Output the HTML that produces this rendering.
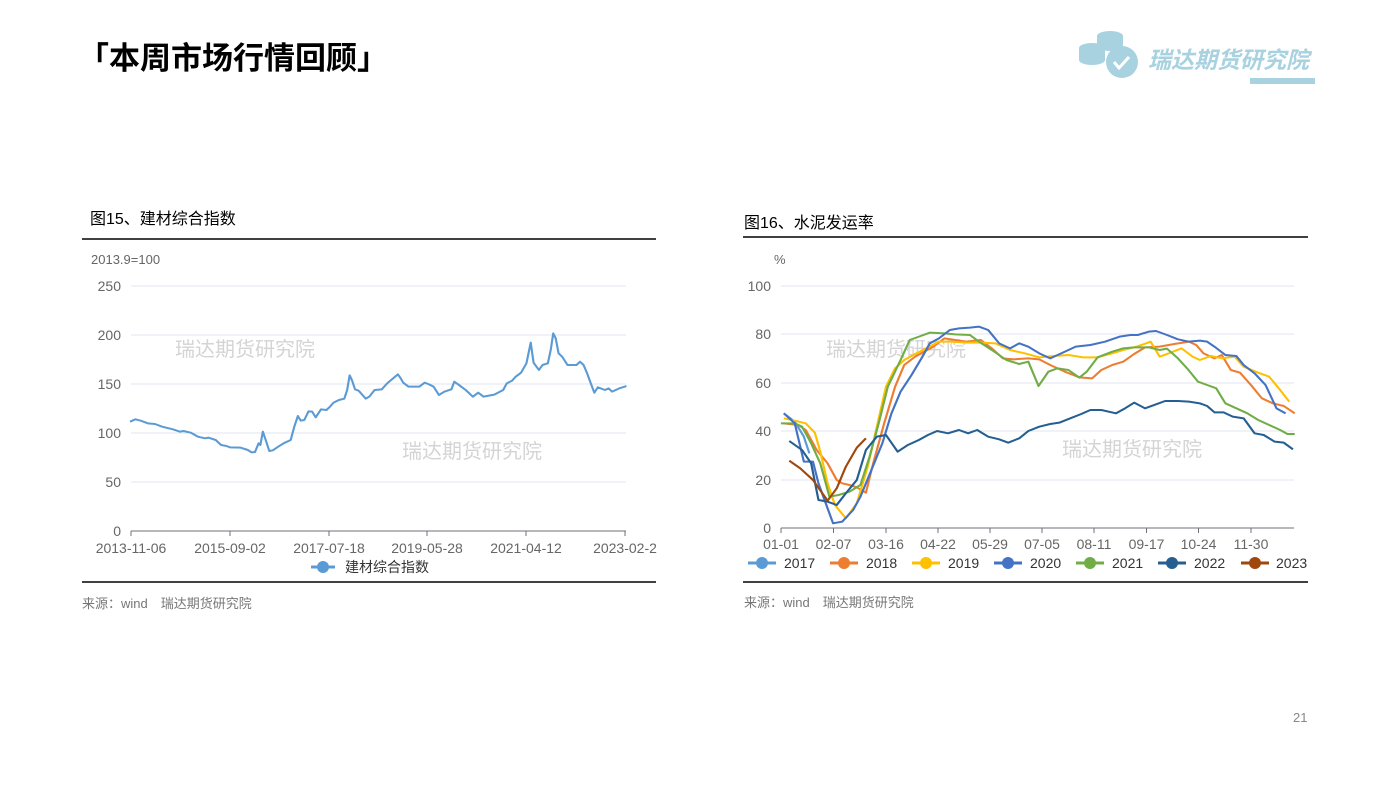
<!DOCTYPE html>
<html><head><meta charset="utf-8"><style>
body{margin:0;width:1387px;height:780px;background:#fff;overflow:hidden;font-family:"Liberation Sans","Noto Sans CJK SC",sans-serif;}
svg text{font-family:"Liberation Sans","Noto Sans CJK SC",sans-serif;}
</style></head><body>
<svg width="1387" height="780" viewBox="0 0 1387 780" xmlns="http://www.w3.org/2000/svg">
<text x="78" y="69" font-size="31" font-weight="bold" fill="#000">「本周市场行情回顾」</text>
<g fill="#a8d2e0">
<ellipse cx="1110" cy="36" rx="13" ry="5"/><rect x="1097" y="36" width="26" height="10"/><ellipse cx="1110" cy="46" rx="13" ry="5"/>
<ellipse cx="1092" cy="48" rx="13" ry="5"/><rect x="1079" y="48" width="26" height="12"/><ellipse cx="1092" cy="60" rx="13" ry="5"/>
<circle cx="1122" cy="62" r="16"/>
</g>
<path d="M1114 62 l5 6 l10 -11" stroke="#fff" stroke-width="3" fill="none"/>
<text x="1148" y="68" font-size="23" font-weight="bold" font-style="italic" fill="#a8d2e0">瑞达期货研究院</text>
<rect x="1250" y="78" width="65" height="6" fill="#a8d2e0"/>

<!-- left chart -->
<text x="90" y="224" font-size="16" fill="#000">图15、建材综合指数</text>
<line x1="82" y1="239" x2="656" y2="239" stroke="#000" stroke-width="1.5"/>
<line x1="82" y1="582" x2="656" y2="582" stroke="#000" stroke-width="1.5"/>
<text x="91" y="264" font-size="13" fill="#666">2013.9=100</text>
<g stroke="#e0e6f1" stroke-width="1">
<line x1="131" y1="286" x2="626" y2="286"/><line x1="131" y1="335" x2="626" y2="335"/><line x1="131" y1="384" x2="626" y2="384"/><line x1="131" y1="433" x2="626" y2="433"/><line x1="131" y1="482" x2="626" y2="482"/>
</g>
<line x1="131" y1="531" x2="626" y2="531" stroke="#6e7079"/>
<g stroke="#6e7079"><line x1="131" y1="531" x2="131" y2="536"/><line x1="230" y1="531" x2="230" y2="536"/><line x1="329" y1="531" x2="329" y2="536"/><line x1="427" y1="531" x2="427" y2="536"/><line x1="526" y1="531" x2="526" y2="536"/><line x1="625" y1="531" x2="625" y2="536"/></g>
<g font-size="14" fill="#666" text-anchor="end">
<text x="121" y="291">250</text><text x="121" y="340">200</text><text x="121" y="389">150</text><text x="121" y="438">100</text><text x="121" y="487">50</text><text x="121" y="536">0</text></g>
<g font-size="14" fill="#666" text-anchor="middle">
<text x="131" y="553">2013-11-06</text><text x="230" y="553">2015-09-02</text><text x="329" y="553">2017-07-18</text><text x="427" y="553">2019-05-28</text><text x="526" y="553">2021-04-12</text><text x="625" y="553">2023-02-2</text></g>
<text x="175" y="356" font-size="20" fill="#d4d4d4">瑞达期货研究院</text>
<text x="402" y="458" font-size="20" fill="#d4d4d4">瑞达期货研究院</text>
<g transform="translate(80,250) scale(0.35714,0.33333)">
<polyline fill="none" stroke="#5b9bd5" stroke-width="6" stroke-linejoin="round" points="140,515 155,508 170,512 190,520 210,522 230,530 260,538 280,545 290,543 310,548 330,560 350,565 360,563 380,570 395,585 410,588 420,592 450,593 470,600 480,607 490,606 500,580 505,585 512,545 520,570 530,603 540,601 555,590 570,580 590,570 600,530 610,498 618,512 628,510 640,484 650,485 660,502 675,478 690,480 700,470 710,458 725,450 740,446 748,420 755,376 762,392 770,418 780,422 800,446 810,440 825,420 845,418 860,400 880,382 890,373 898,385 905,398 920,410 950,410 965,398 975,402 990,410 1005,435 1020,425 1040,418 1048,395 1060,404 1080,420 1100,440 1115,428 1130,440 1160,434 1185,420 1195,400 1210,392 1220,380 1235,368 1250,340 1262,278 1270,338 1285,360 1295,345 1310,340 1318,300 1325,250 1332,265 1340,310 1350,320 1365,345 1390,345 1400,335 1410,345 1420,370 1425,385 1440,428 1450,412 1470,420 1480,415 1490,425 1510,415 1525,410 1530,408"/>
</g>
<line x1="311" y1="567" x2="335" y2="567" stroke="#5b9bd5" stroke-width="3"/><circle cx="323" cy="567" r="6" fill="#5b9bd5"/>
<text x="345" y="572" font-size="14" fill="#333">建材综合指数</text>
<text x="82" y="608" font-size="13" fill="#777">来源：wind　瑞达期货研究院</text>

<!-- right chart -->
<text x="744" y="228" font-size="16" fill="#000">图16、水泥发运率</text>
<line x1="743" y1="237" x2="1308" y2="237" stroke="#000" stroke-width="1.5"/>
<line x1="743" y1="582" x2="1308" y2="582" stroke="#000" stroke-width="1.5"/>
<text x="774" y="264" font-size="13" fill="#666">%</text>
<g stroke="#e0e6f1"><line x1="781" y1="286" x2="1294" y2="286"/><line x1="781" y1="334" x2="1294" y2="334"/><line x1="781" y1="383" x2="1294" y2="383"/><line x1="781" y1="431" x2="1294" y2="431"/><line x1="781" y1="480" x2="1294" y2="480"/></g>
<line x1="781" y1="528" x2="1294" y2="528" stroke="#6e7079"/>
<g stroke="#6e7079"><line x1="781" y1="528" x2="781" y2="533"/><line x1="833.5" y1="528" x2="833.5" y2="533"/><line x1="886" y1="528" x2="886" y2="533"/><line x1="938" y1="528" x2="938" y2="533"/><line x1="990" y1="528" x2="990" y2="533"/><line x1="1042" y1="528" x2="1042" y2="533"/><line x1="1094" y1="528" x2="1094" y2="533"/><line x1="1146.5" y1="528" x2="1146.5" y2="533"/><line x1="1198.5" y1="528" x2="1198.5" y2="533"/><line x1="1251" y1="528" x2="1251" y2="533"/></g>
<g font-size="14" fill="#666" text-anchor="end">
<text x="771" y="291">100</text><text x="771" y="339">80</text><text x="771" y="388">60</text><text x="771" y="436">40</text><text x="771" y="485">20</text><text x="771" y="533">0</text></g>
<g font-size="14" fill="#666" text-anchor="middle">
<text x="781" y="549">01-01</text><text x="833.5" y="549">02-07</text><text x="886" y="549">03-16</text><text x="938" y="549">04-22</text><text x="990" y="549">05-29</text><text x="1042" y="549">07-05</text><text x="1094" y="549">08-11</text><text x="1146.5" y="549">09-17</text><text x="1198.5" y="549">10-24</text><text x="1251" y="549">11-30</text></g>
<text x="826" y="356" font-size="20" fill="#d4d4d4">瑞达期货研究院</text>
<text x="1062" y="456" font-size="20" fill="#d4d4d4">瑞达期货研究院</text>
<g transform="translate(740,250) scale(0.36496,0.33333)" fill="none" stroke-width="6" stroke-linejoin="round">
<polyline stroke="#5b9bd5" points="120,490 150,515 175,560 190,610"/>
<polyline stroke="#ed7d31" points="120,520 160,525 180,540 210,600 240,640 265,690 280,700 300,705 320,712 345,728 365,640 395,520 425,410 450,345 480,320 500,308 530,290 560,265 590,270 620,275 660,270 690,295 720,325 750,328 790,325 820,328 850,345 890,365 930,382 965,385 990,360 1020,345 1050,335 1080,312 1110,292 1150,290 1190,282 1230,275 1250,285 1270,310 1300,325 1320,315 1345,360 1370,368 1400,405 1430,445 1460,460 1490,468 1520,490"/>
<polyline stroke="#ffc000" points="120,505 150,512 180,520 205,548 220,605 240,700 260,765 290,805 320,760 350,650 375,530 400,410 425,355 450,330 480,312 510,295 545,275 580,275 620,278 660,278 700,280 740,300 780,310 820,322 860,318 900,315 940,322 980,322 1020,310 1050,300 1080,292 1100,285 1125,275 1150,320 1175,310 1210,295 1240,320 1260,330 1290,318 1320,325 1355,320 1380,350 1420,368 1450,380 1480,420 1505,455"/>
<polyline stroke="#70ad47" points="112,520 150,520 170,530 195,580 220,640 245,740 270,735 300,725 330,705 355,620 380,520 405,410 440,330 465,270 495,258 520,248 560,250 590,253 630,255 655,275 690,300 730,330 765,342 790,335 818,408 845,365 870,355 900,360 930,383 950,365 980,322 1020,305 1050,295 1080,292 1120,292 1150,300 1170,296 1200,325 1225,355 1255,395 1280,405 1305,415 1330,460 1360,475 1390,490 1420,510 1450,525 1480,540 1500,552 1520,552"/>
<polyline stroke="#4472c4" points="120,490 150,520 175,635 200,635 215,700 255,820 280,815 310,780 330,740 360,660 390,580 415,490 440,425 470,375 500,320 520,280 545,265 575,240 600,235 630,233 655,230 680,240 710,280 740,295 765,280 790,290 820,310 850,325 880,310 920,290 960,285 1000,275 1040,260 1070,255 1090,255 1120,245 1140,243 1170,255 1200,268 1230,275 1260,272 1280,275 1300,290 1330,315 1360,318 1380,345 1410,370 1440,405 1470,475 1495,490"/>
<polyline stroke="#255e91" points="135,573 170,600 195,640 215,750 240,755 265,765 290,730 320,690 345,600 375,560 400,555 432,605 460,585 490,570 515,555 540,543 570,550 600,540 625,550 650,540 680,560 710,568 735,578 765,565 790,543 820,530 850,522 875,518 905,505 935,492 960,480 990,480 1030,490 1055,475 1080,458 1110,475 1140,463 1165,453 1200,453 1230,455 1260,460 1280,468 1300,487 1325,487 1350,500 1380,505 1410,550 1435,555 1465,575 1490,578 1515,598"/>
<polyline stroke="#9e480e" points="135,632 165,655 200,690 240,752 265,715 290,650 320,593 345,565"/>
</g>
<g font-size="14" fill="#333">
<line x1="748" y1="563" x2="776" y2="563" stroke="#5b9bd5" stroke-width="3"/><circle cx="762" cy="563" r="6" fill="#5b9bd5"/><text x="784" y="568">2017</text>
<line x1="830" y1="563" x2="858" y2="563" stroke="#ed7d31" stroke-width="3"/><circle cx="844" cy="563" r="6" fill="#ed7d31"/><text x="866" y="568">2018</text>
<line x1="912" y1="563" x2="940" y2="563" stroke="#ffc000" stroke-width="3"/><circle cx="926" cy="563" r="6" fill="#ffc000"/><text x="948" y="568">2019</text>
<line x1="994" y1="563" x2="1022" y2="563" stroke="#4472c4" stroke-width="3"/><circle cx="1008" cy="563" r="6" fill="#4472c4"/><text x="1030" y="568">2020</text>
<line x1="1076" y1="563" x2="1104" y2="563" stroke="#70ad47" stroke-width="3"/><circle cx="1090" cy="563" r="6" fill="#70ad47"/><text x="1112" y="568">2021</text>
<line x1="1158" y1="563" x2="1186" y2="563" stroke="#255e91" stroke-width="3"/><circle cx="1172" cy="563" r="6" fill="#255e91"/><text x="1194" y="568">2022</text>
<line x1="1241" y1="563" x2="1269" y2="563" stroke="#9e480e" stroke-width="3"/><circle cx="1255" cy="563" r="6" fill="#9e480e"/><text x="1276" y="568">2023</text>
</g>
<text x="744" y="607" font-size="13" fill="#777">来源：wind　瑞达期货研究院</text>
<text x="1293" y="722" font-size="13" fill="#888">21</text>
</svg>
</body></html>
